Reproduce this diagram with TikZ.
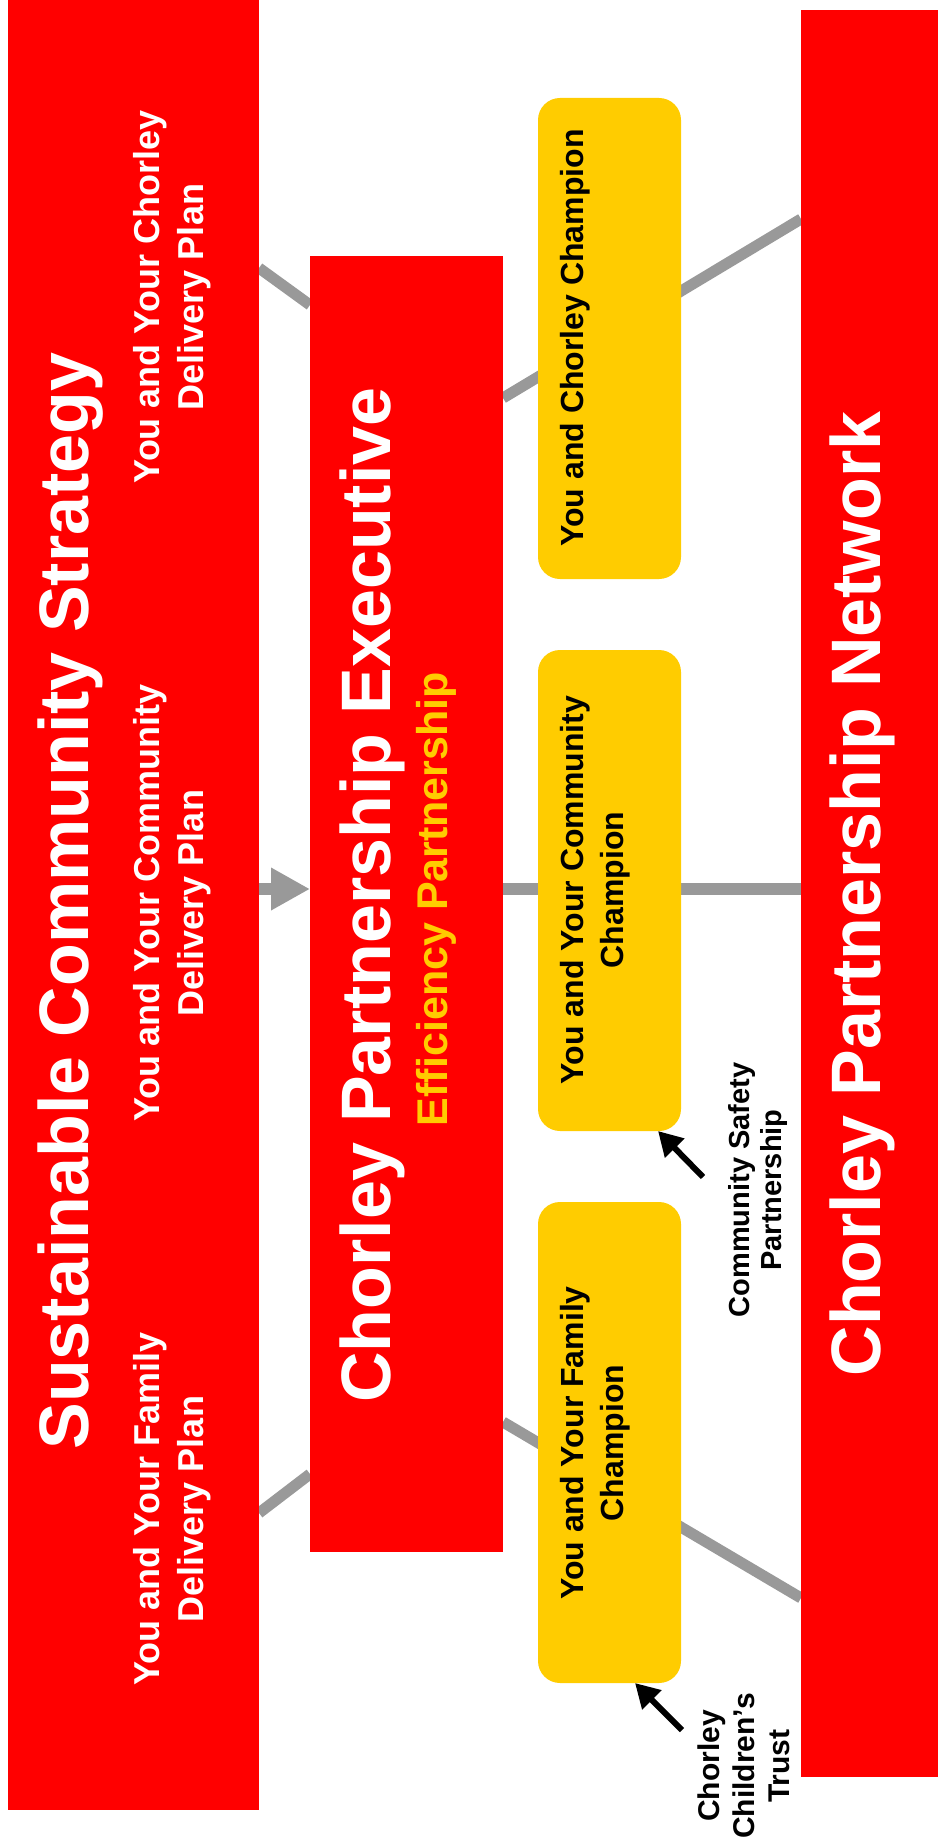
\documentclass[tikz,border=0pt]{standalone}
\usepackage{fontspec}
\setmainfont{Liberation Sans}
\usetikzlibrary{arrows.meta,backgrounds}
\definecolor{cred}{HTML}{FF0000}
\definecolor{cyel}{HTML}{FFCC00}
\definecolor{cgray}{HTML}{999999}

\begin{document}
\begin{tikzpicture}[x=1pt,y=-1pt,
        redbox/.style={fill=cred,inner sep=0,outer sep=0,anchor=north west},
        champ/.style={fill=cyel,rounded corners=22pt,inner sep=0,outer sep=0,anchor=north west,
            minimum width=143pt,minimum height=481pt},
        link/.style={draw=cgray,line width=11pt},
        pointer/.style={draw=black,line width=6pt,-{Triangle[length=24pt,width=26pt]}},
        big/.style={rotate=90,anchor=base,inner sep=0,text=white,
            font=\bfseries\fontsize{70pt}{84pt}\selectfont},
        plan/.style={rotate=90,anchor=north,inner sep=0,align=center,text=white,
            font=\bfseries\fontsize{36pt}{44pt}\selectfont},
        champtext/.style={rotate=90,anchor=north,inner sep=0,align=center,
            font=\bfseries\fontsize{32pt}{40pt}\selectfont},
        note/.style={rotate=90,anchor=north,inner sep=0,align=center,
            font=\bfseries\fontsize{29pt}{32pt}\selectfont}]

    \useasboundingbox (0,0) rectangle (938,1843);

    \node[redbox,minimum width=251pt,minimum height=1810pt] (scs) at (8,0) {};
    \node[redbox,minimum width=193pt,minimum height=1296pt] (cpe) at (310,256) {};
    \node[redbox,minimum width=137pt,minimum height=1767pt] (cpn) at (801,10) {};
    \node[champ] (yc) at (538,98) {};
    \node[champ] (yco) at (538,650) {};
    \node[champ] (yf) at (538,1202) {};

    \begin{scope}[on background layer]
    \draw[link] (scs.east |- 0,268) -- (cpe.west |- 0,305);
    \draw[link] (scs.east |- 0,1513) -- (cpe.west |- 0,1474);
    \draw[link,line width=12pt,-{Triangle[length=39pt,width=40pt]}] (scs.east |- 0,889) -- (cpe.west |- 0,889);
    \draw[link] (cpe.east |- 0,398) -- (cpn.west |- 0,219);
    \draw[link] (cpe.east |- 0,1422) -- (cpn.west |- 0,1598);
    \draw[link,line width=12pt] (cpe.east |- 0,889) -- (cpn.west |- 0,889);
    \end{scope}

    % titles
    \node[big] (scst) at (88,901) {Sustainable Community Strategy};
    \node[big] (cpet) at (390,895) {Chorley Partnership Executive};
    \node[big] (cpnt) at (880,894) {Chorley Partnership Network};
    \node[rotate=90,anchor=base,inner sep=0,text=cyel,font=\bfseries\fontsize{43pt}{50pt}\selectfont]
        (eff) at (447,899) {Efficiency Partnership};

    \node[plan] (pc) at (133,297) {You and Your Chorley\\Delivery Plan};
    \node[plan] (pco) at (133,903) {You and Your Community\\Delivery Plan};
    \node[plan] (pf) at (133,1509) {You and Your Family\\Delivery Plan};

    \node[champtext] (tc) at (560,338) {You and Chorley Champion};
    \node[champtext] (tco) at (560,890) {You and Your Community\\Champion};
    \node[champtext] (tf) at (560,1443) {You and Your Family\\Champion};

    \node[note] (csp) at (728,1190) {Community Safety\\Partnership};
    \node[note,font=\bfseries\fontsize{30pt}{35pt}\selectfont] (cct) at (698,1766) {Chorley\\Children’s\\Trust};

    \coordinate (csptail) at (703,1177);
    \coordinate (ccttail) at (682,1730);
    \draw[pointer] (csptail) -- ([xshift=-23pt]yco.south east);
    \draw[pointer] (ccttail) -- ([xshift=-46pt]yf.south east);

\end{tikzpicture}
\end{document}
